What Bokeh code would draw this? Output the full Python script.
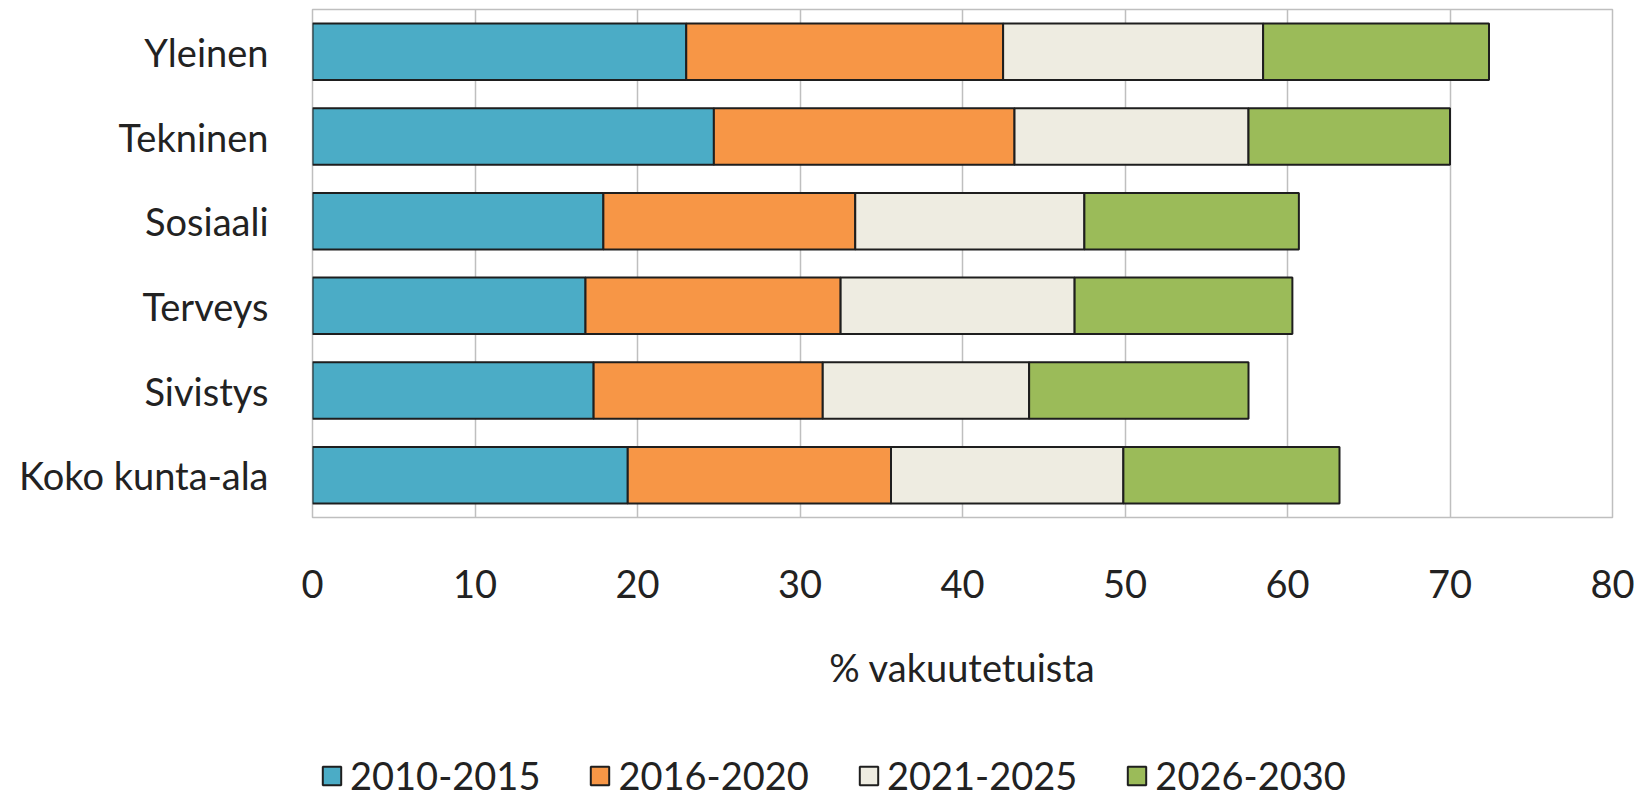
from bokeh.plotting import figure
from bokeh.layouts import column
from bokeh.models import FactorRange, Range1d, Legend, LegendItem, FixedTicker, ColumnDataSource
from bokeh.embed import file_html
from bokeh.resources import INLINE

categories = ["Yleinen", "Tekninen", "Sosiaali", "Terveys", "Sivistys", "Koko kunta-ala"]
periods = ["2010-2015", "2016-2020", "2021-2025", "2026-2030"]
v_2010_2015 = [23.0, 24.7, 17.9, 16.8, 17.3, 19.4]
v_2016_2020 = [19.5, 18.5, 15.5, 15.7, 14.1, 16.2]
v_2021_2025 = [16.0, 14.4, 14.1, 14.4, 12.7, 14.3]
v_2026_2030 = [13.9, 12.4, 13.2, 13.4, 13.5, 13.3]
colors = ["#4BACC6", "#F79646", "#EEECE1", "#9BBB59"]
x_ticks = [0, 10, 20, 30, 40, 50, 60, 70, 80]
x_label = "% vakuutetuista"

FONT = "Lato"
TXT = "#222222"
FS = "38px"
EDGE = "#1e1e1e"
W = 1634

source = ColumnDataSource(data={
    "cat": categories,
    periods[0]: v_2010_2015,
    periods[1]: v_2016_2020,
    periods[2]: v_2021_2025,
    periods[3]: v_2026_2030,
})

p = figure(width=W, height=740, title=None,
           y_range=FactorRange(factors=list(reversed(categories)), range_padding=0),
           x_range=Range1d(0, 80),
           output_backend="svg", toolbar_location=None,
           min_border_left=312, min_border_right=W - 1612,
           min_border_top=9, min_border_bottom=223)

renderers = p.hbar_stack(periods, y="cat", height=0.667, source=source,
                         fill_color=colors, line_color=EDGE, line_width=2)

p.xaxis.ticker = FixedTicker(ticks=x_ticks)
for ax in (p.xaxis[0], p.yaxis[0]):
    ax.major_tick_line_color = None
    ax.minor_tick_line_color = None
    ax.axis_line_color = None
    ax.major_label_text_font = FONT
    ax.major_label_text_font_size = FS
    ax.major_label_text_color = TXT
p.xaxis.major_label_standoff = 46
p.yaxis.major_label_standoff = 38
p.xaxis.axis_label = x_label
p.xaxis.axis_label_text_font = FONT
p.xaxis.axis_label_text_font_size = FS
p.xaxis.axis_label_text_font_style = "normal"
p.xaxis.axis_label_text_color = TXT
p.xaxis.axis_label_standoff = 43

p.ygrid.grid_line_color = None
p.xgrid.grid_line_color = "#BFBFBF"
p.xgrid.grid_line_width = 1.5
p.outline_line_color = "#BFBFBF"
p.outline_line_width = 1.5

# legend strip below the chart (its frame is aligned with the chart frame by the column);
# the proxy bars are hidden and only supply the legend swatches
p2 = figure(width=W, height=58, title=None,
            x_range=Range1d(1000, 1001),
            y_range=FactorRange(factors=list(reversed(categories))),
            output_backend="svg", toolbar_location=None,
            x_axis_location=None, y_axis_location=None, min_border=0)
p2.outline_line_color = None
p2.grid.grid_line_color = None
proxies = p2.hbar_stack(periods, y="cat", height=0.667, source=source,
                        fill_color=colors, line_color=EDGE, line_width=2)
for r in proxies:
    r.visible = False
legend = Legend(items=[LegendItem(label=per, renderers=[r]) for per, r in zip(periods, proxies)],
                orientation="horizontal", location=(8, 0),
                padding=0, margin=0, spacing=48,
                glyph_width=23, glyph_height=23, label_standoff=7,
                label_text_font=FONT, label_text_font_size=FS, label_text_color=TXT,
                border_line_color=None, background_fill_alpha=0)
p2.add_layout(legend, "center")

open("out.html", "w").write(file_html(column(p, p2, spacing=0), INLINE))
